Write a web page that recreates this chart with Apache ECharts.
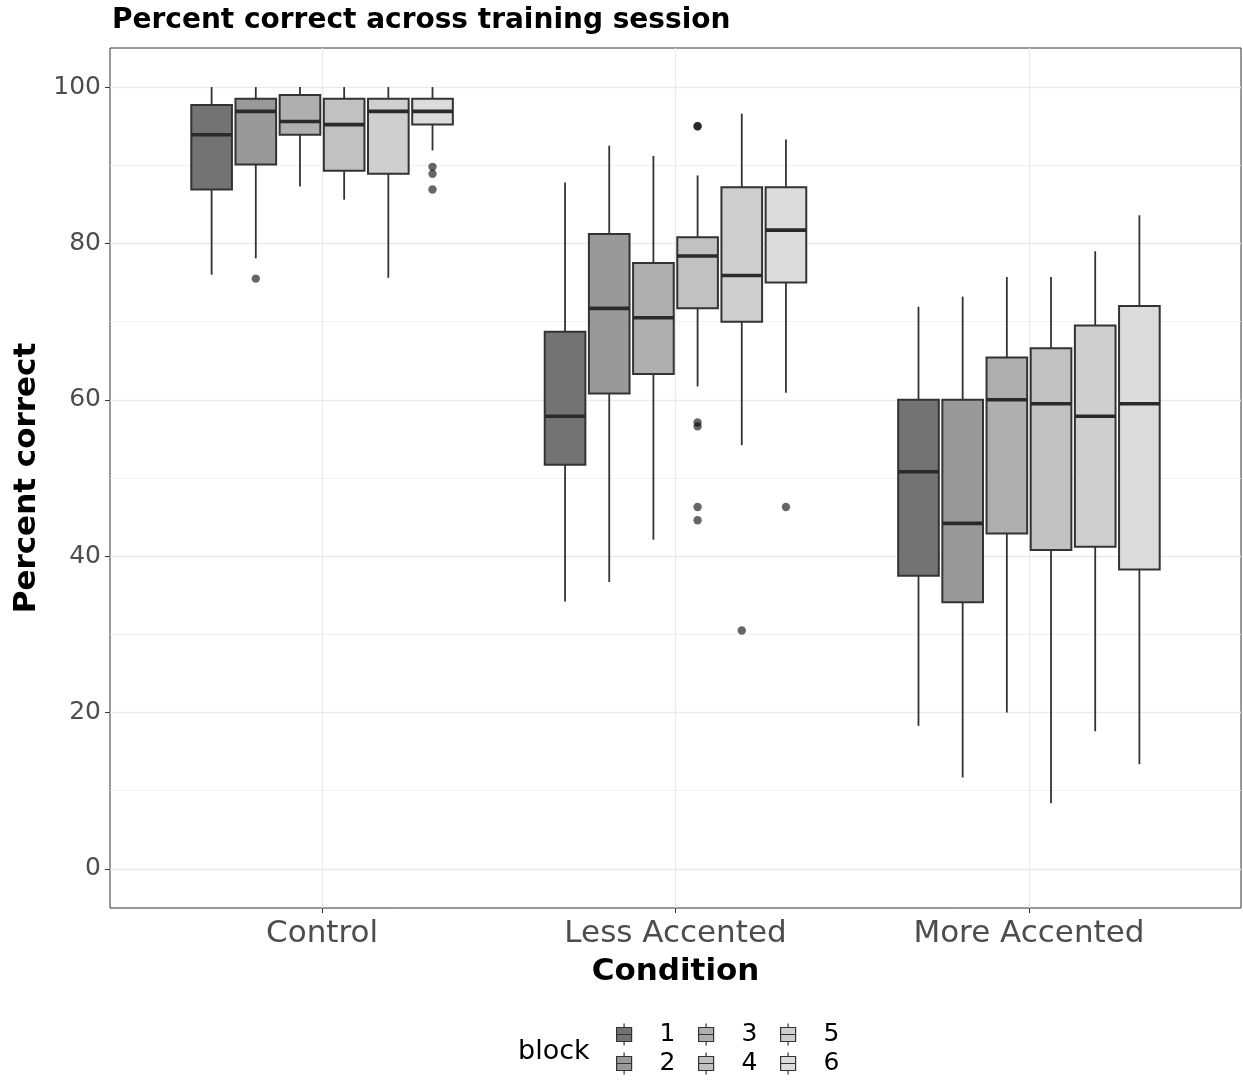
<!DOCTYPE html>
<html>
<head>
<meta charset="utf-8">
<script src="https://cdn.jsdelivr.net/npm/echarts@6/dist/echarts.min.js"></script>
<style>
  html, body { margin: 0; padding: 0; background: #fff; }
  #chart { width: 1243px; height: 1080px; }
</style>
</head>
<body>
<div id="chart"></div>
<script>
// Conditions on the x axis, training blocks dodged within each condition
const conditions = ['Control', 'Less Accented', 'More Accented'];
const blocks = ['1', '2', '3', '4', '5', '6'];
const yTicks = [0, 20, 40, 60, 80, 100];
const yMinorTicks = [10, 30, 50, 70, 90];

// Box summaries per condition: [lower whisker, Q1, median, Q3, upper whisker]
const block1 = [[76.0, 86.9, 93.9, 97.7, 100], [34.2, 51.7, 57.9, 68.7, 87.8], [18.3, 37.5, 50.8, 60.0, 71.9]];
const block2 = [[78.1, 90.1, 96.9, 98.5, 100], [36.7, 60.8, 71.7, 81.2, 92.5], [11.7, 34.1, 44.2, 60.0, 73.2]];
const block3 = [[87.3, 93.9, 95.6, 99.0, 100], [42.1, 63.3, 70.5, 77.5, 91.2], [20.0, 42.9, 60.0, 65.4, 75.7]];
const block4 = [[85.6, 89.3, 95.2, 98.5, 100], [61.7, 71.7, 78.4, 80.8, 88.7], [8.4, 40.8, 59.5, 66.6, 75.7]];
const block5 = [[75.6, 88.9, 96.9, 98.5, 100], [54.2, 70.0, 75.9, 87.2, 96.6], [17.6, 41.2, 57.9, 69.5, 79.0]];
const block6 = [[91.9, 95.2, 96.9, 98.5, 100], [60.9, 75.0, 81.7, 87.2, 93.3], [13.4, 38.3, 59.5, 72.0, 83.6]];

// Outlying observations per block: [condition index, value]
const outliers1 = [];
const outliers2 = [[0, 75.5]];
const outliers3 = [];
const outliers4 = [[1, 95.0], [1, 95.0], [1, 57.1], [1, 56.6], [1, 46.3], [1, 44.6]];
const outliers5 = [[1, 30.5]];
const outliers6 = [[0, 89.8], [0, 88.9], [0, 86.9], [1, 46.3]];

const boxStats = [block1, block2, block3, block4, block5, block6];
const outlierSets = [outliers1, outliers2, outliers3, outliers4, outliers5, outliers6];

// Styling
const FONT = 'DejaVu Sans';
const fills = ['#737373', '#999999', '#afafaf', '#c1c1c1', '#cfcfcf', '#dcdcdc'];
const INK = '#333333';
const DODGE = 0.125;   // spacing between neighbouring blocks, in category units
const BOX_W = 0.115;   // box width, in category units

function blockOffset(idx) {
  return (idx - (blocks.length - 1) / 2) * DODGE;
}

function boxSeries(idx) {
  return {
    type: 'custom',
    name: blocks[idx],
    xAxisIndex: 0,
    yAxisIndex: 0,
    itemStyle: { color: fills[idx], borderColor: INK, borderWidth: 1.5 },
    data: boxStats[idx].map((s, c) => [c + 1].concat(s)),
    encode: { x: 0, y: [1, 2, 3, 4, 5] },
    renderItem: function (params, api) {
      const xc = api.value(0) + blockOffset(idx);
      const half = api.size([BOX_W, 0])[0] / 2;
      const pLow = api.coord([xc, api.value(1)]);
      const yQ1 = api.coord([xc, api.value(2)])[1];
      const yMed = api.coord([xc, api.value(3)])[1];
      const yQ3 = api.coord([xc, api.value(4)])[1];
      const yHigh = api.coord([xc, api.value(5)])[1];
      const x = pLow[0];
      const whisker = { stroke: INK, lineWidth: 1.8 };
      return {
        type: 'group',
        children: [
          { type: 'line', shape: { x1: x, y1: yHigh, x2: x, y2: yQ3 }, style: whisker },
          { type: 'line', shape: { x1: x, y1: yQ1, x2: x, y2: pLow[1] }, style: whisker },
          {
            type: 'rect',
            shape: { x: x - half, y: yQ3, width: half * 2, height: yQ1 - yQ3 },
            style: { fill: api.visual('color'), stroke: INK, lineWidth: 2 }
          },
          {
            type: 'line',
            shape: { x1: x - half, y1: yMed, x2: x + half, y2: yMed },
            style: { stroke: '#2a2a2a', lineWidth: 3.6 }
          }
        ]
      };
    }
  };
}

function outlierSeries(idx) {
  return {
    type: 'custom',
    name: 'out' + blocks[idx],
    xAxisIndex: 0,
    yAxisIndex: 0,
    data: outlierSets[idx].map(o => [o[0] + 1, o[1]]),
    encode: { x: 0, y: 1 },
    renderItem: function (params, api) {
      const p = api.coord([api.value(0) + blockOffset(idx), api.value(1)]);
      return {
        type: 'circle',
        shape: { cx: p[0], cy: p[1], r: 4.2 },
        style: { fill: 'rgba(0,0,0,0.6)' }
      };
    }
  };
}

const legendIcon = 'path://M7.5 0 L7.5 4 M0 4 L15 4 L15 18 L0 18 Z M0 11 L15 11 M7.5 18 L7.5 22';

const chart = echarts.init(document.getElementById('chart'), null, { renderer: 'canvas' });

chart.setOption({
  animation: false,
  backgroundColor: '#ffffff',
  textStyle: { fontFamily: FONT },
  title: [
    {
      text: 'Percent correct across training session',
      left: 107, top: 2,
      textStyle: { fontFamily: FONT, fontSize: 28, fontWeight: 'bold', color: '#000' }
    },
    {
      text: 'block',
      left: 513, top: 1033,
      textStyle: { fontFamily: FONT, fontSize: 27, fontWeight: 'normal', color: '#000' }
    }
  ],
  legend: [0, 1, 2].map(col => ({
    data: blocks.slice(col * 2, col * 2 + 2),
    orient: 'vertical',
    left: 616 + col * 82,
    top: 1022,
    height: 90,
    padding: 0,
    itemWidth: 15,
    itemHeight: 22,
    itemGap: 4,
    icon: legendIcon,
    selectedMode: false,
    itemStyle: { borderColor: INK, borderWidth: 1.2 },
    textStyle: { fontFamily: FONT, fontSize: 25, color: '#000', padding: [0, 0, 0, 23] }
  })),
  grid: {
    left: 110, right: 2, top: 48, bottom: 172,
    show: true, borderColor: INK, borderWidth: 1, backgroundColor: 'transparent'
  },
  xAxis: {
    type: 'value',
    min: 0.4,
    max: 3.6,
    axisLine: { show: false, onZero: false },
    axisTick: { show: true, length: 5, lineStyle: { color: INK }, customValues: [1, 2, 3] },
    axisLabel: {
      customValues: [1, 2, 3],
      formatter: v => conditions[Math.round(v) - 1],
      fontFamily: FONT, fontSize: 31, color: '#4d4d4d', margin: 10
    },
    splitLine: { show: true, lineStyle: { color: '#ebebeb', width: 1.3 } },
    name: 'Condition',
    nameLocation: 'middle',
    nameGap: 48,
    nameTextStyle: { fontFamily: FONT, fontSize: 31, fontWeight: 'bold', color: '#000' }
  },
  yAxis: [
    {
      type: 'value',
      min: -5,
      max: 105,
      axisLine: { show: false, onZero: false },
      axisTick: { show: true, length: 5, lineStyle: { color: INK }, customValues: yTicks },
      axisLabel: { customValues: yTicks, fontFamily: FONT, fontSize: 25, color: '#4d4d4d', margin: 9 },
      splitLine: { show: true, lineStyle: { color: '#ebebeb', width: 1.3 } },
      name: 'Percent correct',
      nameLocation: 'middle',
      nameGap: 66,
      nameRotate: 90,
      nameTextStyle: { fontFamily: FONT, fontSize: 31, fontWeight: 'bold', color: '#000' }
    },
    {
      type: 'value',
      min: -5,
      max: 105,
      position: 'left',
      axisLine: { show: false, onZero: false },
      axisTick: { show: false, customValues: yMinorTicks },
      axisLabel: { show: false, customValues: yMinorTicks },
      splitLine: { show: true, lineStyle: { color: '#f0f0f0', width: 0.9 } }
    }
  ],
  series: blocks.map((b, i) => boxSeries(i)).concat(blocks.map((b, i) => outlierSeries(i)))
});
</script>
</body>
</html>
